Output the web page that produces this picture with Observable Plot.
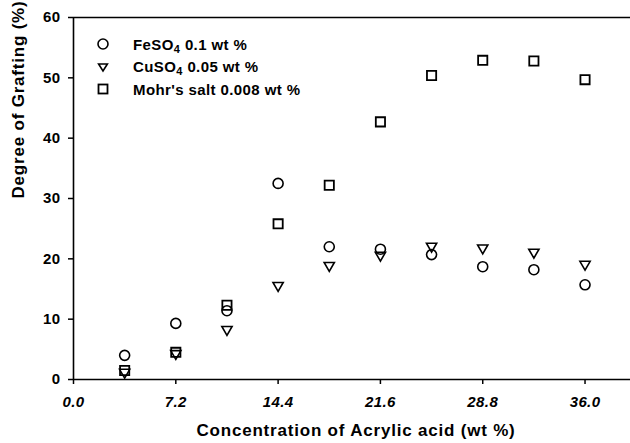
<!DOCTYPE html>
<html>
<head>
<meta charset="utf-8">
<script src="https://cdn.jsdelivr.net/npm/d3@7"></script>
<script src="https://cdn.jsdelivr.net/npm/@observablehq/plot@0.6"></script>
<style>
  html, body { margin: 0; padding: 0; background: #fff; }
  #wrap { position: relative; width: 630px; height: 443px; }
  #legend { position: absolute; left: 96px; top: 33px; font-family: "Liberation Sans", Arial, sans-serif; font-weight: bold; font-size: 15px; letter-spacing: 0.4px; color: #000; }
  #legend .row { display: flex; align-items: center; height: 22.5px; }
  #legend svg { width: 37px; height: 22px; flex: none; }
  #legend sub { font-size: 11px; vertical-align: -3px; line-height: 0; }
</style>
</head>
<body>
<div id="wrap"></div>
<script>
const conc = [3.6, 7.2, 10.8, 14.4, 18.0, 21.6, 25.2, 28.8, 32.4, 36.0];
const feso4 = [4.0, 9.3, 11.4, 32.5, 22.0, 21.6, 20.7, 18.7, 18.2, 15.7];
const cuso4 = [1.2, 4.3, 8.3, 15.6, 18.9, 20.6, 22.1, 21.8, 21.1, 19.1];
const mohr = [1.5, 4.5, 12.3, 25.8, 32.2, 42.7, 50.4, 52.9, 52.8, 49.7];
const seriesNames = ["FeSO4 0.1 wt %", "CuSO4 0.05 wt %", "Mohr's salt 0.008 wt %"];
const xTicks = [0, 7.2, 14.4, 21.6, 28.8, 36.0];
const yTicks = [0, 10, 20, 30, 40, 50, 60];
const xTitle = "Concentration of Acrylic acid (wt %)";
const yTitle = "Degree of Grafting (%)";

const rows = (vals) => conc.map((c, i) => ({x: c, y: vals[i]}));

const font = "'Liberation Sans', Arial, sans-serif";
const chart = Plot.plot({
  width: 630,
  height: 443,
  marginLeft: 73,
  marginRight: 0,
  marginTop: 17,
  marginBottom: 64,
  style: {fontFamily: font, fontWeight: "bold", fontSize: "15px", color: "#000", background: "#fff"},
  x: {domain: [0, 39.2]},
  y: {domain: [0, 60]},
  marks: [
    Plot.axisX({ticks: xTicks, tickFormat: d => d.toFixed(1), tickSize: 5, tickPadding: 12, fontSize: 15, fontStyle: "italic", label: null, strokeWidth: 1.5}),
    Plot.axisY({ticks: yTicks, tickSize: 5, tickPadding: 8, fontSize: 15, label: null, strokeWidth: 1.5}),
    Plot.text([xTitle], {frameAnchor: "bottom", dy: 51, dx: 4, lineAnchor: "middle", fontSize: 17, fontWeight: "bold"}),
    Plot.text([yTitle], {frameAnchor: "left", dx: -55, rotate: -90, lineAnchor: "middle", fontSize: 17, fontWeight: "bold"}),
    Plot.ruleY([0, 60], {stroke: "#000", strokeWidth: 1.6}),
    Plot.ruleX([0], {stroke: "#000", strokeWidth: 1.6}),
    Plot.dot(rows(mohr), {x: "x", y: "y", symbol: "square", r: 5.2, stroke: "#000", strokeWidth: 1.8, fill: "none"}),
    Plot.dot(rows(cuso4), {x: "x", y: "y", symbol: "triangle", rotate: 180, r: 3.8, stroke: "#000", strokeWidth: 1.6, fill: "none"}),
    Plot.dot(rows(feso4), {x: "x", y: "y", symbol: "circle", r: 5, stroke: "#000", strokeWidth: 1.6, fill: "none"})
  ]
});
const wrap = document.getElementById("wrap");
wrap.appendChild(chart);
// letter spacing on texts to mimic the wide Helvetica of the original
d3.select(chart).selectAll("text").attr("letter-spacing", "0.4px");
d3.select(chart).selectAll("text").filter(function () { return this.textContent === xTitle || this.textContent === yTitle; }).attr("letter-spacing", "0.8px");

// legend
const legend = document.createElement("div");
legend.id = "legend";
const symbols = [
  '<circle cx="7" cy="11" r="5" fill="none" stroke="#000" stroke-width="1.6"/>',
  '<path d="M2.6,8 L11.4,8 L7,15 Z" fill="none" stroke="#000" stroke-width="1.6"/>',
  '<rect x="2.5" y="6.5" width="9" height="9" fill="none" stroke="#000" stroke-width="1.8"/>'
];
const labelsHtml = seriesNames.map(s => s.replace(/SO4/, "SO<sub>4</sub>"));
labelsHtml.forEach((lab, i) => {
  const row = document.createElement("div");
  row.className = "row";
  row.innerHTML = `<svg viewBox="0 0 37 22">${symbols[i]}</svg><span>${lab}</span>`;
  legend.appendChild(row);
});
wrap.appendChild(legend);
</script>
</body>
</html>
